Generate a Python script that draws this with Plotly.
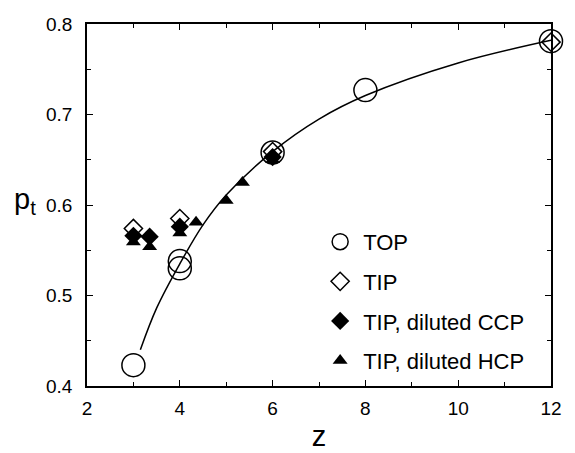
import plotly.graph_objects as go

# --- data ---
top_z = [3, 4, 4, 6, 8, 12]
top_p = [0.423, 0.538, 0.530, 0.658, 0.727, 0.781]

tip_z = [3, 4, 6, 12]
tip_p = [0.574, 0.585, 0.659, 0.780]

ccp_z = [3, 3.35, 4, 6]
ccp_p = [0.566, 0.565, 0.576, 0.653]

hcp_z = [3, 3.35, 4, 4.35, 5, 5.35, 6]
hcp_p = [0.559, 0.554, 0.569, 0.581, 0.605, 0.625, 0.650]

fit_z = [3.15, 3.5, 4, 4.5, 5, 6, 7, 8, 10, 12]
fit_p = [0.440, 0.486, 0.535, 0.578, 0.611, 0.659, 0.695, 0.721, 0.757, 0.782]

FONT = "Liberation Sans"

fig = go.Figure()
fig.add_trace(go.Scatter(x=fit_z, y=fit_p, mode="lines", line=dict(color="black", width=1.5, shape="spline"),
                         showlegend=False, hoverinfo="skip"))
fig.add_trace(go.Scatter(x=hcp_z, y=hcp_p, mode="markers", name="TIP, diluted HCP", legendrank=4, legendgroup="d",
                         cliponaxis=False,
                         marker=dict(symbol="triangle-up", size=13, color="black", line=dict(width=0))))
fig.add_trace(go.Scatter(x=ccp_z, y=ccp_p, mode="markers", name="TIP, diluted CCP", legendrank=3, legendgroup="c",
                         cliponaxis=False,
                         marker=dict(symbol="diamond", size=14, color="black", line=dict(width=0))))
fig.add_trace(go.Scatter(x=tip_z, y=tip_p, mode="markers", name="TIP", legendrank=2, legendgroup="b",
                         cliponaxis=False,
                         marker=dict(symbol="diamond-open", size=14, color="black", line=dict(width=1.5, color="black"))))
fig.add_trace(go.Scatter(x=top_z, y=top_p, mode="markers", name="TOP", legendrank=1, legendgroup="a",
                         cliponaxis=False,
                         marker=dict(symbol="circle-open", size=23, color="black", line=dict(width=1.5, color="black"))))

axis_common = dict(showline=True, linecolor="black", linewidth=1.5, mirror="ticks", ticks="inside",
                   ticklen=6, tickwidth=1.2, tickcolor="black", showgrid=False, zeroline=False,
                   ticklabeloverflow="allow",
                   tickfont=dict(family=FONT, size=19, color="black"))

fig.update_xaxes(range=[2, 12], dtick=2, tick0=2,
                 minor=dict(dtick=1, ticks="inside", ticklen=4, tickwidth=1.2, tickcolor="black"),
                 ticklabelstandoff=4,
                 title=dict(text="z", font=dict(family=FONT, size=29, color="black"), standoff=8),
                 **axis_common)
fig.update_yaxes(range=[0.4, 0.8], dtick=0.1, tick0=0.4, tickformat=".1f",
                 minor=dict(dtick=0.05, ticks="inside", ticklen=4, tickwidth=1.2, tickcolor="black"),
                 ticklabelstandoff=9,
                 **axis_common)

fig.add_annotation(text="p<sub>t</sub>", xref="paper", yref="paper", x=-0.134, y=0.51, xanchor="center",
                   yanchor="middle", showarrow=False, font=dict(family=FONT, size=29, color="black"))

# the page body has an 8px margin, so the figure is sized/margined to compensate
fig.update_layout(
    width=567, height=445,
    margin=dict(l=79, r=24, t=6, b=45),
    paper_bgcolor="white", plot_bgcolor="white",
    legend=dict(x=0.496, y=0.456, xanchor="left", yanchor="top", traceorder="grouped", tracegroupgap=8,
                font=dict(family=FONT, size=22, color="black"), bgcolor="rgba(0,0,0,0)",
                itemsizing="trace", itemwidth=36),
)

fig.write_html("out.html")
